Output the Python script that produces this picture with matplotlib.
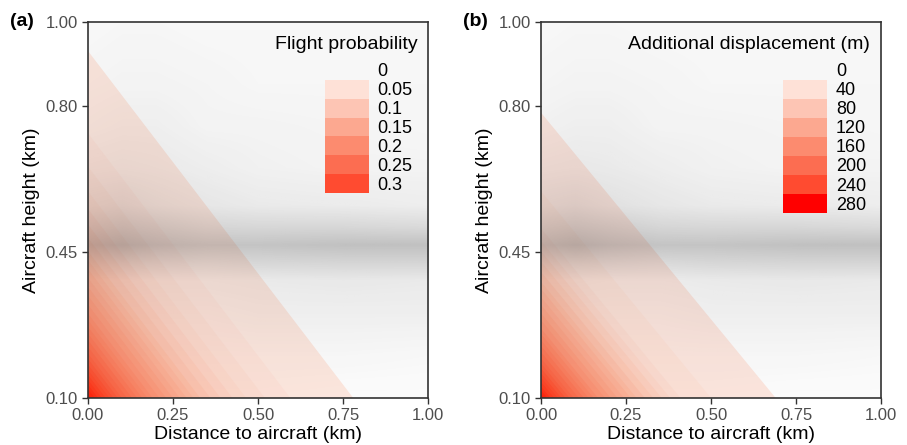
import numpy as np
import matplotlib
matplotlib.use('Agg')
import matplotlib.pyplot as plt
from matplotlib.colors import LinearSegmentedColormap
from matplotlib.image import NonUniformImage

plt.rcParams['font.family'] = ['Liberation Sans', 'DejaVu Sans']

# gray point cloud, read as opacity per height / distance
cloud_dist = [0.0, 0.1, 0.2, 0.35, 0.5, 0.75, 1.0]
cloud_height = [0.10, 0.20, 0.30, 0.38, 0.42, 0.465, 0.51, 0.56, 0.65, 0.75, 0.85, 1.00]
cloud_alpha = [
    [0.03, 0.03, 0.03, 0.03, 0.03, 0.02, 0.02],
    [0.05, 0.05, 0.05, 0.05, 0.05, 0.05, 0.04],
    [0.08, 0.08, 0.08, 0.08, 0.09, 0.09, 0.09],
    [0.12, 0.12, 0.11, 0.11, 0.12, 0.13, 0.12],
    [0.22, 0.24, 0.22, 0.21, 0.22, 0.23, 0.23],
    [0.36, 0.40, 0.36, 0.33, 0.33, 0.35, 0.35],
    [0.27, 0.30, 0.27, 0.23, 0.22, 0.22, 0.21],
    [0.18, 0.20, 0.17, 0.14, 0.12, 0.11, 0.10],
    [0.12, 0.13, 0.12, 0.10, 0.08, 0.07, 0.07],
    [0.08, 0.09, 0.09, 0.07, 0.07, 0.06, 0.05],
    [0.06, 0.07, 0.07, 0.06, 0.05, 0.05, 0.05],
    [0.04, 0.05, 0.05, 0.04, 0.04, 0.04, 0.04],
]

# panel a: flight probability contour levels and their distance at 0.10 km height
prob_levels = [0.01, 0.02, 0.03, 0.04, 0.05, 0.06, 0.07, 0.08, 0.09, 0.10,
               0.11, 0.12, 0.13, 0.14, 0.15, 0.16, 0.17, 0.18, 0.19, 0.20,
               0.21, 0.22, 0.23, 0.24, 0.25, 0.26, 0.27, 0.28, 0.29]
prob_reach = [0.78, 0.595, 0.52, 0.465, 0.425, 0.39, 0.36, 0.33, 0.31, 0.29,
              0.27, 0.25, 0.23, 0.21, 0.19, 0.175, 0.16, 0.145, 0.13, 0.115,
              0.10, 0.088, 0.075, 0.063, 0.052, 0.041, 0.03, 0.02, 0.01]
prob_slope = 1.065
prob_breaks = ['0', '0.05', '0.1', '0.15', '0.2', '0.25', '0.3']
prob_colors = ['#FEE1D7', '#FDC5B4', '#FCA890', '#FC8B6F', '#FC6D51', '#FF4B30']

# panel b: additional displacement (m)
disp_levels = [10, 20, 30, 40, 50, 60, 70, 80, 90, 100, 110, 120, 130, 140,
               150, 160, 170, 180, 190, 200, 210, 220, 230, 240, 250, 260, 270]
disp_reach = [0.69, 0.50, 0.41, 0.38, 0.355, 0.33, 0.305, 0.281, 0.264, 0.244,
              0.225, 0.205, 0.188, 0.168, 0.155, 0.14, 0.126, 0.111, 0.096,
              0.084, 0.072, 0.06, 0.05, 0.039, 0.028, 0.019, 0.01]
disp_slope = 0.99
disp_breaks = ['0', '40', '80', '120', '160', '200', '240', '280']
disp_colors = ['#FEE1D7', '#FDC5B4', '#FCA890', '#FC8B6F', '#FC6D51', '#FF4B30', '#FF0000']

field_colors = ['#FFEEE7', '#FED7C9', '#FDB9A0', '#FC9B7D', '#FC7E5E',
                '#FC5F3F', '#FF3D1F', '#FF1400']

fig = plt.figure(figsize=(9.07, 4.45), dpi=100)

cloud_cmap = LinearSegmentedColormap.from_list(
    'cloud', [(0.3, 0.3, 0.3, 0.0), (0.3, 0.3, 0.3, 1.0)])
field_cmap = LinearSegmentedColormap.from_list('field', field_colors)


def panel(left, tag, levels, reach, slope, top, colors, breaks, title, leg_box):
    ax = fig.add_axes([left, 0.1056, 0.375, 0.845])
    # stacked triangles, widest (lowest level) first
    for lev, s in zip(levels, reach):
        xs = [0, s, 0]
        ys = [0.10, 0.10, 0.10 + slope * s]
        ax.fill(xs, ys, color=field_cmap(min(lev / top, 1.0)), lw=0, zorder=1)
    im = NonUniformImage(ax, interpolation='bilinear', cmap=cloud_cmap,
                         extent=(0, 1, 0.1, 1.0), zorder=2)
    im.set_data(cloud_dist, cloud_height, np.array(cloud_alpha))
    im.set_clim(0, 1)
    ax.add_image(im)
    ax.set_xlim(0, 1)
    ax.set_ylim(0.10, 1.00)
    ax.set_xticks([0, 0.25, 0.5, 0.75, 1.0])
    ax.set_xticklabels(['0.00', '0.25', '0.50', '0.75', '1.00'])
    ax.set_yticks([0.10, 0.45, 0.80, 1.00])
    ax.set_yticklabels(['0.10', '0.45', '0.80', '1.00'])
    ax.tick_params(labelsize=12, colors='#333333', labelcolor='#4D4D4D', length=4, width=1)
    for sp in ax.spines.values():
        sp.set_color('#333333')
        sp.set_linewidth(1.2)
        sp.set_zorder(6)
    ax.set_xlabel('Distance to aircraft (km)', fontsize=14, labelpad=2)
    ax.set_ylabel('Aircraft height (km)', fontsize=14, labelpad=4)
    ax.text(0.968, 0.941, title, transform=ax.transAxes, ha='right', va='center',
            fontsize=14, zorder=5)
    ax.text(-0.23, 1.0, tag, transform=ax.transAxes, ha='left', va='center',
            fontsize=14, fontweight='bold')

    leg = ax.inset_axes(leg_box)
    leg.set_zorder(5)
    n = len(colors)
    for i, c in enumerate(colors):
        leg.bar(0.5, 1, bottom=i, width=1, color=c, lw=0)
    leg.set_xlim(0, 1)
    leg.set_ylim(n, 0)
    leg.axis('off')
    for i, b in enumerate(breaks):
        leg.text(1.2, i - 0.42, b, ha='left', va='center', fontsize=13, clip_on=False)
    return ax


panel(0.097, '(a)', prob_levels, prob_reach, prob_slope, 0.3, prob_colors,
      prob_breaks, 'Flight probability', [0.697, 0.545, 0.129, 0.301])
panel(0.5965, '(b)', disp_levels, disp_reach, disp_slope, 280, disp_colors,
      disp_breaks, 'Additional displacement (m)', [0.712, 0.492, 0.129, 0.354])

fig.savefig('out.png', dpi=100)
